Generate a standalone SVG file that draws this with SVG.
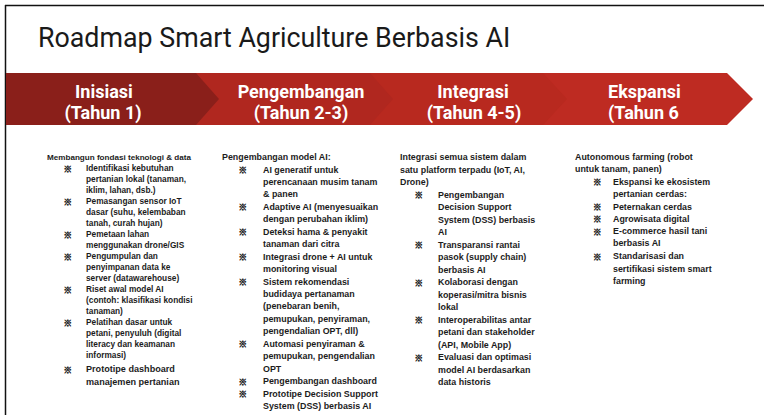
<svg xmlns="http://www.w3.org/2000/svg" width="764" height="415" viewBox="0 0 764 415">
<style>
.title{font-family:Roboto,"Liberation Sans",Arial,sans-serif;font-size:26.8px;fill:#1a1a1a}
.ph{font-family:Roboto,"Liberation Sans",Arial,sans-serif;font-weight:bold;font-size:18px;fill:#ffffff}
.c{text-anchor:middle}
.t{font-family:"Liberation Sans",Arial,sans-serif;font-weight:bold;fill:#1c1c1c}
.s1{font-size:8.3px}
.s1h{font-size:8.1px}
.s1b{font-size:9.1px}
.s2{font-size:8.9px}
.b{font-family:"Noto Sans CJK JP","DejaVu Sans",sans-serif;font-weight:bold;font-size:8.5px;fill:#1c1c1c;stroke:#1c1c1c;stroke-width:0.5}
</style>
<rect x="0" y="0" width="764" height="415" fill="#ffffff"/>
<g id="frame">
<line x1="5.5" y1="5" x2="5.5" y2="415" stroke="#111" stroke-width="1.5"/>
<line x1="5" y1="5.5" x2="764" y2="5.5" stroke="#111" stroke-width="1.5"/>
</g>
<g id="title"><text class="title" x="38" y="47">Roadmap Smart Agriculture Berbasis AI</text></g>
<g id="banner">
<g id="phase4"><polygon points="540,73 727,73 753,99 727,125 540,125" fill="#be2b22"/>
<text class="ph" x="608" y="98">Ekspansi</text><text class="ph" x="608" y="119">(Tahun 6</text></g>
<g id="phase3"><polygon points="367,73 543,73 567,99 543,125 367,125 390,99" fill="#b8291f"/>
<text class="ph c" x="473" y="98">Integrasi</text><text class="ph c" x="474" y="119">(Tahun 4-5)</text></g>
<g id="phase2"><polygon points="194,73 370,73 393,99 370,125 194,125 217,99" fill="#b0271f"/>
<text class="ph c" x="301" y="98">Pengembangan</text><text class="ph c" x="301" y="119">(Tahun 2-3)</text></g>
<g id="phase1"><polygon points="6,73 196,73 219,99 196,125 6,125" fill="#8a1f1a"/>
<text class="ph c" x="104" y="98">Inisiasi</text><text class="ph c" x="103" y="119">(Tahun 1)</text></g>
</g>
<g id="connectors"></g>
<g id="col1">
<text class="t s1h" x="47" y="160">Membangun fondasi teknologi &amp; data</text>
<text class="b" x="63.5" y="171.5">※</text><text class="t s1" x="86" y="171">Identifikasi kebutuhan</text>
<text class="t s1" x="86" y="182">pertanian lokal (tanaman,</text>
<text class="t s1" x="86" y="193">iklim, lahan, dsb.)</text>
<text class="b" x="63.5" y="204.5">※</text><text class="t s1" x="86" y="204">Pemasangan sensor IoT</text>
<text class="t s1" x="86" y="215">dasar (suhu, kelembaban</text>
<text class="t s1" x="86" y="226">tanah, curah hujan)</text>
<text class="b" x="63.5" y="237.5">※</text><text class="t s1" x="86" y="237">Pemetaan lahan</text>
<text class="t s1" x="86" y="248">menggunakan drone/GIS</text>
<text class="b" x="63.5" y="259.5">※</text><text class="t s1" x="86" y="259">Pengumpulan dan</text>
<text class="t s1" x="86" y="270">penyimpanan data ke</text>
<text class="t s1" x="86" y="281">server (datawarehouse)</text>
<text class="b" x="63.5" y="292.5">※</text><text class="t s1" x="86" y="292">Riset awal model AI</text>
<text class="t s1" x="86" y="303">(contoh: klasifikasi kondisi</text>
<text class="t s1" x="86" y="314">tanaman)</text>
<text class="b" x="63.5" y="325.5">※</text><text class="t s1" x="86" y="325">Pelatihan dasar untuk</text>
<text class="t s1" x="86" y="336">petani, penyuluh (digital</text>
<text class="t s1" x="86" y="347">literacy dan keamanan</text>
<text class="t s1" x="86" y="358">informasi)</text>
<text class="b" x="63.5" y="372.5">※</text><text class="t s1b" x="86" y="372">Prototipe dashboard</text>
<text class="t s1b" x="86" y="385">manajemen pertanian</text>
</g>
<g id="col2">
<text class="t s2" x="222" y="160">Pengembangan model AI:</text>
<text class="b" x="238.5" y="173">※</text><text class="t s2" x="263" y="172.5">AI generatif untuk</text>
<text class="t s2" x="263" y="185">perencanaan musim tanam</text>
<text class="t s2" x="263" y="197.4">&amp; panen</text>
<text class="b" x="238.5" y="210.4">※</text><text class="t s2" x="263" y="209.9">Adaptive AI (menyesuaikan</text>
<text class="t s2" x="263" y="222.3">dengan perubahan iklim)</text>
<text class="b" x="238.5" y="235.2">※</text><text class="t s2" x="263" y="234.7">Deteksi hama &amp; penyakit</text>
<text class="t s2" x="263" y="247.2">tanaman dari citra</text>
<text class="b" x="238.5" y="260.1">※</text><text class="t s2" x="263" y="259.6">Integrasi drone + AI untuk</text>
<text class="t s2" x="263" y="272">monitoring visual</text>
<text class="b" x="238.5" y="285">※</text><text class="t s2" x="263" y="284.5">Sistem rekomendasi</text>
<text class="t s2" x="263" y="297">budidaya pertanaman</text>
<text class="t s2" x="263" y="309.4">(penebaran benih,</text>
<text class="t s2" x="263" y="321.9">pemupukan, penyiraman,</text>
<text class="t s2" x="263" y="334.3">pengendalian OPT, dll)</text>
<text class="b" x="238.5" y="347.3">※</text><text class="t s2" x="263" y="346.8">Automasi penyiraman &amp;</text>
<text class="t s2" x="263" y="359.2">pemupukan, pengendalian</text>
<text class="t s2" x="263" y="371.7">OPT</text>
<text class="b" x="238.5" y="384.6">※</text><text class="t s2" x="263" y="384.1">Pengembangan dashboard</text>
<text class="b" x="238.5" y="397.1">※</text><text class="t s2" x="263" y="396.6">Prototipe Decision Support</text>
<text class="t s2" x="263" y="409">System (DSS) berbasis AI</text>
</g>
<g id="col3">
<text class="t s2" x="400" y="160">Integrasi semua sistem dalam</text>
<text class="t s2" x="400" y="172.5">satu platform terpadu (IoT, AI,</text>
<text class="t s2" x="400" y="185">Drone)</text>
<text class="b" x="414.5" y="198">※</text><text class="t s2" x="438" y="197.5">Pengembangan</text>
<text class="t s2" x="438" y="210">Decision Support</text>
<text class="t s2" x="438" y="222.5">System (DSS) berbasis</text>
<text class="t s2" x="438" y="235">AI</text>
<text class="b" x="414.5" y="248">※</text><text class="t s2" x="438" y="247.5">Transparansi rantai</text>
<text class="t s2" x="438" y="260">pasok (supply chain)</text>
<text class="t s2" x="438" y="272.5">berbasis AI</text>
<text class="b" x="414.5" y="285.5">※</text><text class="t s2" x="438" y="285">Kolaborasi dengan</text>
<text class="t s2" x="438" y="297.5">koperasi/mitra bisnis</text>
<text class="t s2" x="438" y="310">lokal</text>
<text class="b" x="414.5" y="323">※</text><text class="t s2" x="438" y="322.5">Interoperabilitas antar</text>
<text class="t s2" x="438" y="335">petani dan stakeholder</text>
<text class="t s2" x="438" y="347.5">(API, Mobile App)</text>
<text class="b" x="414.5" y="360.5">※</text><text class="t s2" x="438" y="360">Evaluasi dan optimasi</text>
<text class="t s2" x="438" y="372.5">model AI berdasarkan</text>
<text class="t s2" x="438" y="385">data historis</text>
</g>
<g id="col4">
<text class="t s2" x="575" y="160">Autonomous farming (robot</text>
<text class="t s2" x="575" y="172">untuk tanam, panen)</text>
<text class="b" x="593" y="185">※</text><text class="t s2" x="613" y="184.5"> Ekspansi ke ekosistem</text>
<text class="t s2" x="613" y="197">pertanian cerdas:</text>
<text class="b" x="593" y="210">※</text><text class="t s2" x="613" y="209.5"> Peternakan cerdas</text>
<text class="b" x="593" y="222">※</text><text class="t s2" x="613" y="221.5"> Agrowisata digital</text>
<text class="b" x="593" y="234.5">※</text><text class="t s2" x="613" y="234"> E-commerce hasil tani</text>
<text class="t s2" x="613" y="246">berbasis AI</text>
<text class="b" x="593" y="259.5">※</text><text class="t s2" x="613" y="259">Standarisasi dan</text>
<text class="t s2" x="613" y="271.5">sertifikasi sistem smart</text>
<text class="t s2" x="613" y="283.5">farming</text>
</g>
</svg>
